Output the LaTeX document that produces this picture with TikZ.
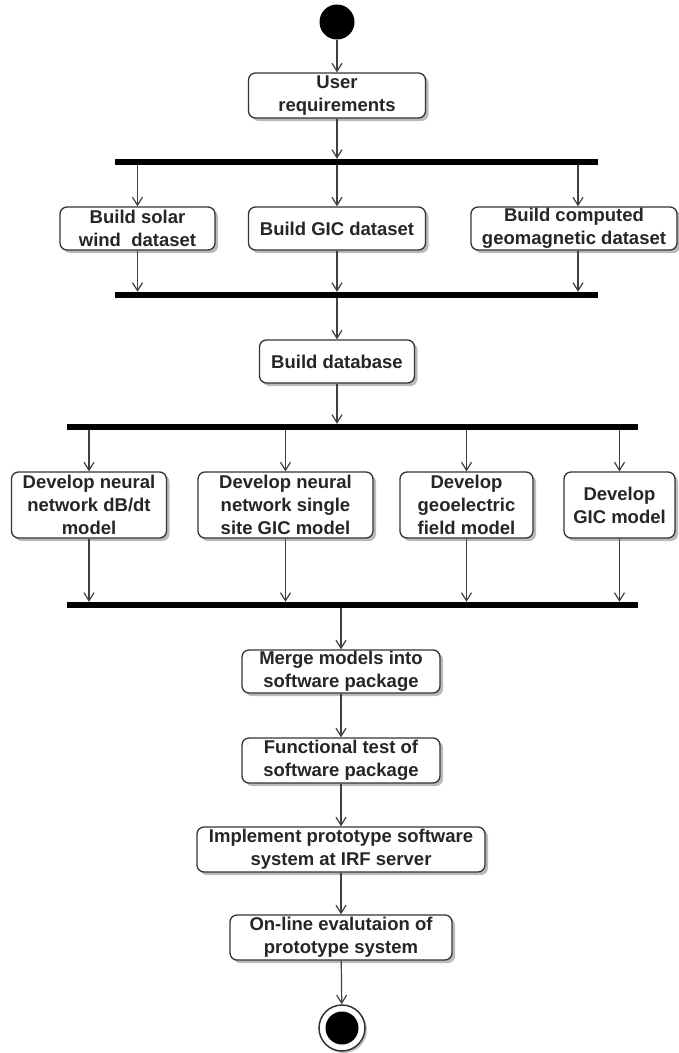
\documentclass[tikz,border=0pt]{standalone}
\usepackage{fontspec}
\setmainfont{Liberation Sans}
\usetikzlibrary{arrows.meta,shadows}
\begin{document}
\begin{tikzpicture}[x=1pt,y=-1pt,
  box/.style={draw=black!80, line width=1.3pt, rounded corners=7pt, fill=white, align=center,
    inner sep=0pt, font=\bfseries\fontsize{18.5}{23}\selectfont, text=black!85,
    drop shadow={shadow xshift=3pt, shadow yshift=-3pt, fill=black!60, opacity=0.45}},
  bar/.style={fill=black, inner sep=0pt, minimum height=6pt},
  arr/.style={draw=black!75, line width=1.2pt, -{Straight Barb[length=8pt,width=10pt]}}]
\useasboundingbox (0,0) rectangle (679,1053);

% start
\node[circle, fill=black, minimum size=35pt, inner sep=0pt] (start) at (337,22) {};
\node[box, minimum width=177pt, minimum height=45pt] (user) at (337,95.5) {User\\requirements};

% fork 1
\node[bar, minimum width=483pt] (f1) at (356.5,162) {};
\node[box, minimum width=155pt, minimum height=43pt] (b1) at (137.5,228.5) {Build solar\\wind\ \ dataset};
\node[box, minimum width=177pt, minimum height=43pt] (b2) at (337,228.5) {Build GIC dataset};
\node[box, minimum width=206pt, minimum height=43pt] (b3) at (574,228.5) {Build computed\\geomagnetic dataset};
\node[bar, minimum width=483pt] (j1) at (356.5,295) {};

\node[box, minimum width=155pt, minimum height=43pt] (db) at (337,361.5) {Build database};

% fork 2
\node[bar, minimum width=571pt] (f2) at (352.5,427) {};
\node[box, minimum width=155pt, minimum height=66pt] (m1) at (89,505) {Develop neural\\network dB/dt\\model};
\node[box, minimum width=175pt, minimum height=66pt] (m2) at (285.5,505) {Develop neural\\network single\\site GIC model};
\node[box, minimum width=133pt, minimum height=66pt] (m3) at (466.5,505) {Develop\\geoelectric\\field model};
\node[box, minimum width=111pt, minimum height=66pt] (m4) at (619.5,505) {Develop\\GIC model};
\node[bar, minimum width=571pt] (j2) at (352.5,605) {};

% sequence
\node[box, minimum width=198pt, minimum height=43pt] (merge) at (341,671.5) {Merge models into\\software package};
\node[box, minimum width=198pt, minimum height=45pt] (test) at (341,760.5) {Functional test of\\software package};
\node[box, minimum width=288pt, minimum height=45pt] (impl) at (341,849.5) {Implement prototype software\\system at IRF server};
\node[box, minimum width=222pt, minimum height=45pt] (eval) at (341,937.5) {On-line evalutaion of\\prototype system};

% end
\node[circle, draw=black!80, line width=1.5pt, fill=white, minimum size=46pt, inner sep=0pt,
  drop shadow={shadow xshift=2pt, shadow yshift=-2pt, fill=black!60, opacity=0.4}] (end) at (342,1028) {};
\node[circle, fill=black, minimum size=33pt, inner sep=0pt] (endin) at (end) {};

% connectors
\draw[arr] (start) -- (user);
\draw[arr] (user) -- (user |- f1.north);
\draw[arr] (b1 |- f1.south) -- (b1);
\draw[arr] (b2 |- f1.south) -- (b2);
\draw[arr] ([xshift=4pt]b3.north |- f1.south) -- ([xshift=4pt]b3.north);
\draw[arr] (b1) -- (b1 |- j1.north);
\draw[arr] (b2) -- (b2 |- j1.north);
\draw[arr] ([xshift=4pt]b3.south) -- ([xshift=4pt]b3.south |- j1.north);
\draw[arr] (db |- j1.south) -- (db);
\draw[arr] (db) -- (db |- f2.north);
\draw[arr] (m1 |- f2.south) -- (m1);
\draw[arr] (m2 |- f2.south) -- (m2);
\draw[arr] (m3 |- f2.south) -- (m3);
\draw[arr] (m4 |- f2.south) -- (m4);
\draw[arr] (m1) -- (m1 |- j2.north);
\draw[arr] (m2) -- (m2 |- j2.north);
\draw[arr] (m3) -- (m3 |- j2.north);
\draw[arr] (m4) -- (m4 |- j2.north);
\draw[arr] (merge |- j2.south) -- (merge);
\draw[arr] (merge) -- (test);
\draw[arr] (test) -- (impl);
\draw[arr] (impl) -- (eval);
\draw[arr] (eval) -- (end);
\end{tikzpicture}
\end{document}
